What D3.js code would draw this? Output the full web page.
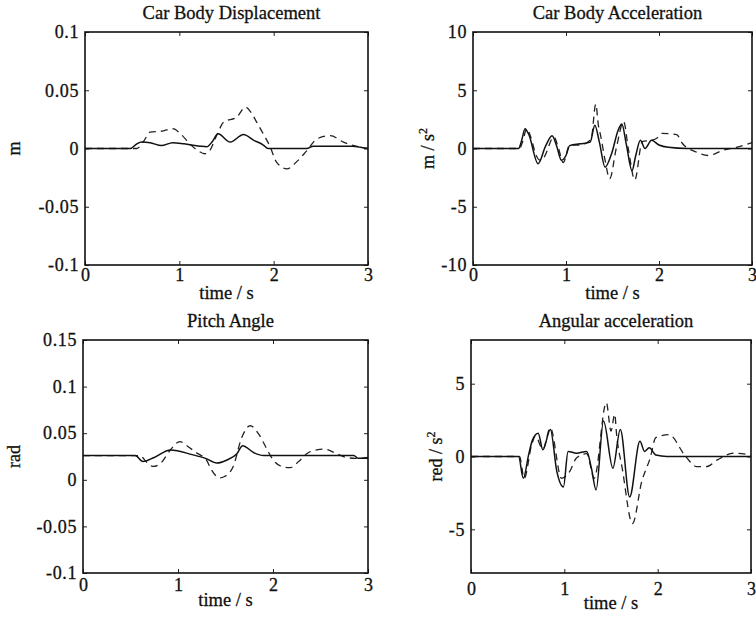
<!DOCTYPE html>
<html>
<head>
<meta charset="utf-8">
<script src="https://cdn.jsdelivr.net/npm/d3@7"></script>
<style>
  body { margin: 0; background: #fff; }
  svg text { font-family: "Liberation Serif", "Times New Roman", serif; fill: #111; stroke: #111; stroke-width: 0.3; }
</style>
</head>
<body>
<svg id="chart" width="756" height="621"></svg>
<script>
// time in s: [t, value]
const dispSolid = [[0,0],[0.48,0],[0.55,0.004],[0.6,0.0055],[0.69,0.005],[0.81,0.0025],[0.93,0.005],[1.05,0.004],[1.22,0.002],[1.29,0.0015],[1.35,0.006],[1.41,0.0126],[1.54,0.0055],[1.68,0.012],[1.79,0.007],[1.89,0.003],[1.94,0],[2.35,0],[2.42,0.002],[2.84,0.002],[2.92,0.001],[3,0]];
const dispDash = [[0,0],[0.55,0],[0.62,0.006],[0.69,0.014],[0.82,0.015],[0.93,0.017],[1.02,0.012],[1.11,0.004],[1.2,-0.002],[1.27,-0.0045],[1.32,-0.002],[1.4,0.012],[1.47,0.0226],[1.61,0.027],[1.7,0.0355],[1.76,0.031],[1.82,0.0226],[1.89,0.0126],[1.96,0.002],[2.03,-0.0117],[2.14,-0.0175],[2.24,-0.0117],[2.35,-0.002],[2.46,0.0083],[2.6,0.011],[2.74,0.0055],[2.87,0.002],[3,0]];

const accSolid = [[0,0],[0.49,0],[0.52,0.6],[0.56,1.7],[0.6,1.2],[0.7,-1.3],[0.78,0.2],[0.85,1.1],[0.9,0.2],[0.95,-1.0],[1.0,-0.6],[1.04,0.25],[1.15,0.4],[1.26,0.55],[1.31,2.0],[1.36,0.5],[1.42,-1.6],[1.49,-0.45],[1.56,1.55],[1.6,2.1],[1.65,0.3],[1.71,-1.9],[1.75,-0.6],[1.8,0.7],[1.85,0],[1.92,0.7],[2.0,0.3],[2.1,0.1],[2.3,0],[3,0]];
const accDash = [[0,0],[0.5,0],[0.53,0.5],[0.58,1.7],[0.62,1.0],[0.68,-0.6],[0.72,-1.0],[0.76,-0.8],[0.87,1.0],[0.92,0],[0.97,-1.2],[1.04,0.3],[1.15,0.3],[1.27,0.8],[1.32,3.8],[1.35,1.9],[1.37,1.2],[1.42,-1.0],[1.47,-2.6],[1.54,0],[1.62,2.3],[1.67,0],[1.74,-2.7],[1.82,0.6],[1.92,0.7],[1.98,0.9],[2.03,1.3],[2.19,1.2],[2.25,0.45],[2.4,-0.3],[2.53,-0.6],[2.69,-0.15],[2.83,0.1],[3,0.5]];

const pitchSolid = [[0,0.026],[0.55,0.026],[0.63,0.0196],[0.75,0.024],[0.92,0.032],[1.15,0.027],[1.29,0.023],[1.41,0.018],[1.51,0.021],[1.62,0.028],[1.68,0.0365],[1.8,0.029],[1.9,0.026],[2.85,0.026],[2.9,0.023],[3,0.023]];
const pitchDash = [[0,0.026],[0.6,0.026],[0.66,0.02],[0.74,0.0143],[0.82,0.018],[0.92,0.032],[1.02,0.041],[1.1,0.036],[1.2,0.0286],[1.3,0.021],[1.35,0.011],[1.44,0.002],[1.49,0.0035],[1.58,0.014],[1.67,0.045],[1.76,0.058],[1.85,0.049],[1.92,0.036],[1.99,0.023],[2.09,0.0143],[2.18,0.013],[2.27,0.0196],[2.37,0.029],[2.46,0.032],[2.54,0.033],[2.67,0.028],[2.77,0.024],[2.87,0.023],[3,0.024]];

const angSolid = [[0,0],[0.51,0],[0.56,-1.5],[0.62,0.2],[0.66,1.16],[0.72,1.6],[0.77,0.46],[0.85,1.85],[0.92,-1.04],[0.99,-2.1],[1.04,0.35],[1.13,0.23],[1.24,0.35],[1.29,-0.8],[1.34,-2.3],[1.42,2.43],[1.52,-0.8],[1.6,1.85],[1.7,-2.78],[1.81,1.04],[1.86,0.35],[1.91,0.6],[1.98,0.1],[2.1,0],[3,0]];
const angDash = [[0,0],[0.52,0],[0.57,-1.5],[0.65,0.8],[0.69,1.4],[0.77,0.5],[0.85,1.97],[0.97,-1.5],[1.06,-1.0],[1.13,-0.1],[1.24,0.2],[1.32,-1.5],[1.45,3.7],[1.5,1.74],[1.54,2.9],[1.56,1.5],[1.62,-0.8],[1.73,-4.6],[1.83,-1.7],[1.92,-0.1],[1.98,1.3],[2.12,1.5],[2.3,0],[2.42,-0.7],[2.52,-0.7],[2.64,-0.23],[2.82,0.23],[3,0.1]];

const xTicks = [0, 1, 2, 3];
const dispTicks = [-0.1, -0.05, 0, 0.05, 0.1];
const accTicks = [-10, -5, 0, 5, 10];
const pitchTicks = [-0.1, -0.05, 0, 0.05, 0.1, 0.15];
const angTicks = [-5, 0, 5];

const svg = d3.select('#chart');

const panels = [
  { box: [85, 368, 32, 265], yDom: [-0.1, 0.1], yTicks: dispTicks, title: 'Car Body Displacement',
    ylab: ['m'], ylabX: 14, xpad: 3, timeY: 299, solid: dispSolid, dash: dispDash },
  { box: [473, 752, 32, 265], yDom: [-10, 10], yTicks: accTicks, title: 'Car Body  Acceleration',
    ylab: ['m / s', '2'], ylabX: 428, xpad: 3, timeY: 299, solid: accSolid, dash: accDash },
  { box: [83, 368, 340, 573], yDom: [-0.1, 0.15], yTicks: pitchTicks, title: 'Pitch Angle',
    ylab: ['rad'], ylabX: 14, xpad: 5, timeY: 606, solid: pitchSolid, dash: pitchDash },
  { box: [471, 751, 340, 573], yDom: [-8, 8], yTicks: angTicks, title: 'Angular acceleration',
    ylab: ['red / s', '2'], ylabX: 436, xpad: 9, timeY: 609, solid: angSolid, dash: angDash }
];

// plain hyphen for negatives, like the original
const fmt = d => String(+d.toFixed(3));

panels.forEach(p => {
  const [x0, x1, y0, y1] = p.box;
  const x = d3.scaleLinear().domain([0, 3]).range([x0, x1]);
  const y = d3.scaleLinear().domain(p.yDom).range([y1, y0]);
  const g = svg.append('g');

  // ticks on all four sides, pointing in
  const tl = 4;
  const tickStyle = sel => sel.call(s => s.select('.domain').remove())
    .call(s => s.selectAll('line').attr('stroke', '#222').attr('stroke-width', 1));

  g.append('g').attr('transform', `translate(0,${y1})`)
    .call(d3.axisBottom(x).tickValues(xTicks).tickSize(-tl).tickPadding(p.xpad).tickFormat(d3.format('d')))
    .call(tickStyle)
    .call(s => s.selectAll('text').attr('font-size', 18).attr('font-family', null).attr('fill', null));
  g.append('g').attr('transform', `translate(0,${y0})`)
    .call(d3.axisTop(x).tickValues(xTicks).tickSize(-tl).tickFormat(''))
    .call(tickStyle);
  g.append('g').attr('transform', `translate(${x0},0)`)
    .call(d3.axisLeft(y).tickValues(p.yTicks).tickSize(-tl).tickPadding(6).tickFormat(fmt))
    .call(tickStyle)
    .call(s => s.selectAll('text').attr('font-size', 18).attr('letter-spacing', 0.6)
      .attr('font-family', null).attr('fill', null));
  g.append('g').attr('transform', `translate(${x1},0)`)
    .call(d3.axisRight(y).tickValues(p.yTicks).tickSize(-tl).tickFormat(''))
    .call(tickStyle);

  const line = d3.line().x(d => x(d[0])).y(d => y(d[1])).curve(d3.curveMonotoneX);

  g.append('path').datum(p.dash)
    .attr('d', line).attr('fill', 'none').attr('stroke', '#222')
    .attr('stroke-width', 1.3).attr('stroke-dasharray', '7,5');
  g.append('path').datum(p.solid)
    .attr('d', line).attr('fill', 'none').attr('stroke', '#111')
    .attr('stroke-width', 1.5);

  g.append('rect').attr('x', x0).attr('y', y0)
    .attr('width', x1 - x0).attr('height', y1 - y0)
    .attr('fill', 'none').attr('stroke', '#111').attr('stroke-width', 1.6);

  g.append('text').attr('x', (x0 + x1) / 2 + 5).attr('y', y0 - 13)
    .attr('text-anchor', 'middle').attr('font-size', 18.5).text(p.title);

  g.append('text').attr('x', (x0 + x1) / 2).attr('y', p.timeY)
    .attr('text-anchor', 'middle').attr('font-size', 18.5).text('time / s');

  const yl = g.append('text')
    .attr('transform', `translate(${p.ylabX},${(y0 + y1) / 2}) rotate(-90)`)
    .attr('text-anchor', 'middle').attr('dy', '0.35em').attr('font-size', 18);
  yl.append('tspan').text(p.ylab[0]);
  if (p.ylab[1]) yl.append('tspan').attr('baseline-shift', 'super').attr('font-size', 12).text(p.ylab[1]);
});
</script>
</body>
</html>
